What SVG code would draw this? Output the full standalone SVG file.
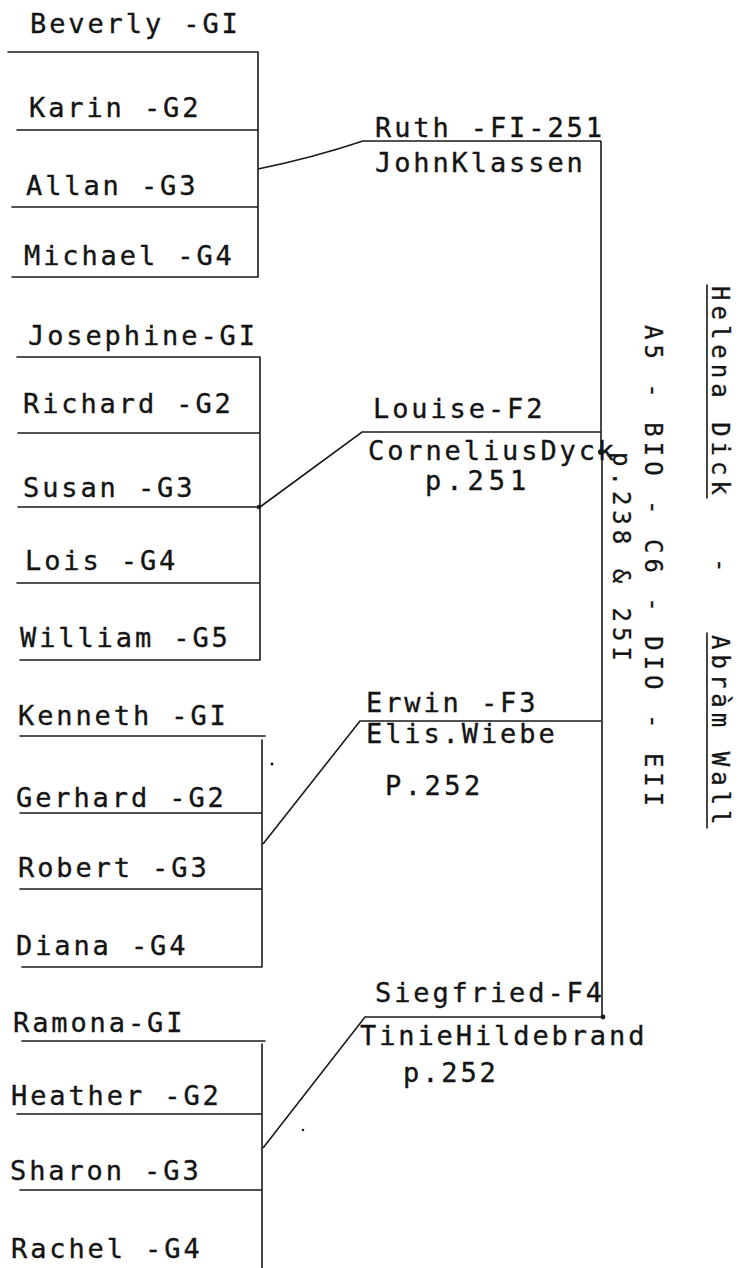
<svg xmlns="http://www.w3.org/2000/svg" width="743" height="1268" viewBox="0 0 743 1268">
<style>
.t{font-family:"DejaVu Sans Mono","Liberation Mono",monospace;font-size:27px;letter-spacing:2.9px;fill:#141414;stroke:#141414;stroke-width:0.35}
.v{font-family:"DejaVu Sans Mono","Liberation Mono",monospace;font-size:24px;letter-spacing:5px;fill:#141414;stroke:#141414;stroke-width:0.3}
.l{stroke:#1a1a1a;stroke-width:1.6;fill:none;stroke-linecap:round}
.c{stroke:#1a1a1a;stroke-width:1.6;fill:none}
.d{fill:#1a1a1a}
</style>
<rect width="743" height="1268" fill="#ffffff"/>

<g id="children-ruth">
  <text class="t" x="30" y="33">Beverly -GI</text>
  <text class="t" x="29" y="117">Karin -G2</text>
  <text class="t" x="26" y="195">Allan -G3</text>
  <text class="t" x="24" y="265">Michael -G4</text>
  <path class="l" d="M8,52H258M17,130H258M12,207H258M12,277H258M258,52V277"/>
</g>

<g id="children-louise">
  <text class="t" x="28" y="345">Josephine-GI</text>
  <text class="t" x="23" y="413">Richard -G2</text>
  <text class="t" x="23" y="497">Susan -G3</text>
  <text class="t" x="25" y="570">Lois -G4</text>
  <text class="t" x="20" y="647">William -G5</text>
  <path class="l" d="M17,357H260M18,433H260M18,507H260M17,583H260M20,660H260M260,357V660"/>
  <circle class="d" cx="259" cy="507" r="2.2"/>
</g>

<g id="children-erwin">
  <text class="t" x="18" y="725">Kenneth -GI</text>
  <text class="t" x="16" y="807">Gerhard -G2</text>
  <text class="t" x="18" y="877">Robert -G3</text>
  <text class="t" x="16" y="955">Diana -G4</text>
  <path class="l" d="M20,736H265M20,813H262M20,889H262M22,967H262M262,740V967"/>
  <circle class="d" cx="272" cy="764" r="1.5"/>
</g>

<g id="children-siegfried">
  <text class="t" x="13" y="1032">Ramona-GI</text>
  <text class="t" x="11" y="1105">Heather -G2</text>
  <text class="t" x="10" y="1180">Sharon -G3</text>
  <text class="t" x="11" y="1258">Rachel -G4</text>
  <path class="l" d="M22,1041H265M17,1114H262M20,1190H262M262,1044V1268"/>
  <circle class="d" cx="303" cy="1130" r="1.3"/>
</g>

<g id="ruth">
  <text class="t" x="375" y="137">Ruth -FI-251</text>
  <text class="t" x="375" y="172">JohnKlassen</text>
</g>

<g id="louise">
  <text class="t" x="373" y="418">Louise-F2</text>
  <text class="t" x="368" y="460">CorneliusDyck</text>
  <text class="t" x="425" y="490" style="letter-spacing:5px">p.251</text>
</g>

<g id="erwin">
  <text class="t" x="366" y="712">Erwin -F3</text>
  <text class="t" x="366" y="743">Elis.Wiebe</text>
  <text class="t" x="385" y="795" style="letter-spacing:3.5px">P.252</text>
</g>

<g id="siegfried">
  <text class="t" x="375" y="1002">Siegfried-F4</text>
  <text class="t" x="360" y="1045">TinieHildebrand</text>
  <text class="t" x="403" y="1082">p.252</text>
</g>

<g id="parents">
  <text class="v" transform="translate(712,286) rotate(90)">Helena Dick</text>
  <text class="v" transform="translate(712,558) rotate(90)">-</text>
  <text class="v" transform="translate(712,635) rotate(90)">Abràm Wall</text>
  <path class="l" stroke-width="2" d="M707,285V498M707,633V828"/>
  <text class="v" transform="translate(645,325) rotate(90)">A5 - BIO - C6 - DIO - EII</text>
  <text class="v" transform="translate(613,452) rotate(90)">p.238 &amp; 25I</text>
</g>

<g id="connectors">
  <path class="c" d="M258,169 Q312,158 363,141 H601"/>
  <path class="c" d="M260,507 L362,432 H601"/>
  <path class="c" d="M263,844 L360,721 H601"/>
  <path class="c" d="M263,1148 L365,1017 H603"/>
  <path class="c" d="M601,141 V450"/>
  <path class="c" stroke-width="2.6" d="M602,448 V1018"/>
  <circle class="d" cx="603" cy="1017" r="2.4"/>
  <circle class="d" cx="601" cy="452" r="3"/>
</g>
</svg>
